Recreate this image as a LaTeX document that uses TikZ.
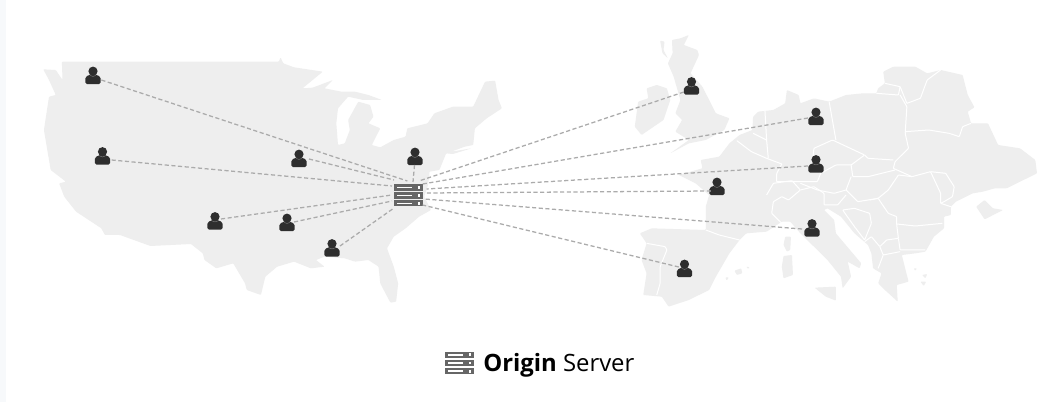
\documentclass[tikz,border=0pt]{standalone}
\usepackage{fontspec}
\setmainfont{Open Sans}
\definecolor{landgray}{HTML}{EEEEEE}
\definecolor{linkgray}{HTML}{ABABAB}
\definecolor{persondark}{HTML}{2E2E2E}
\definecolor{rackgray}{HTML}{666666}
\definecolor{stripblue}{HTML}{F7F9FB}
\tikzset{
  land/.style={fill=landgray,draw=none,rounded corners=0.6pt},
  border/.style={draw=white,line width=0.75pt,line join=round,rounded corners=0.5pt},
  link/.style={draw=linkgray,line width=0.95pt,dash pattern=on 3.1pt off 1.9pt},
  zoomA/.style={shift={(0,40)},x=0.2535pt,y=-0.25pt},
  zoomB/.style={shift={(530,20)},x=0.2535pt,y=-0.25pt},
  usernode/.style={inner sep=0pt,minimum width=12pt,minimum height=14pt,
    path picture={
      \fill[persondark] (0,-4.3) circle[radius=4.6];
      \fill[persondark] (-7.7,7) .. controls (-7.7,8.2) and (-7,8.7) .. (-6,8.7) -- (6,8.7) .. controls (7,8.7) and (7.7,8.2) .. (7.7,7) -- (7.7,3) .. controls (7.7,0.6) and (5,0.2) .. (2.8,-0.8) -- (-2.8,-0.8) .. controls (-5,0.2) and (-7.7,0.6) .. (-7.7,3) -- cycle;
      \draw[gray,line width=0.3pt] (-2.8,0) .. controls (-1.5,1.2) and (1.5,1.2) .. (2.8,0);
    }},
  rackrow/.style={fill=rackgray,draw=none},
  rackmark/.style={fill=white,draw=none},
  servernode/.style={inner sep=0pt,minimum width=21.75pt,minimum height=16.5pt,
    path picture={
      \foreach \yy in {-7.2,0.8,8.8}{
        \fill[rackrow] (-14.5,\yy-3.4) rectangle (14.5,\yy+3.4);
        \fill[rackmark] (-12,\yy-0.7) rectangle (3.5,\yy+0.7);
        \fill[rackmark] (9.6,\yy-1.4) rectangle (11.4,\yy+1.4);
      }
    }},
  legendnode/.style={inner sep=0pt,minimum width=21.75pt,minimum height=17.5pt,
    path picture={
      \foreach \yy in {-8.1,0,8.1}{
        \fill[rackrow] (-14.5,\yy-3.3) rectangle (14.5,\yy+3.3);
        \fill[rackmark] (-12,\yy-0.7) rectangle (3.5,\yy+0.7);
        \fill[rackmark] (9.6,\yy-1.4) rectangle (11.4,\yy+1.4);
      }
    }},
  captionnode/.style={inner sep=0pt,anchor=west,font=\fontsize{17.9pt}{21pt}\selectfont},
}
\begin{document}
\begin{tikzpicture}[x=0.75pt,y=-0.75pt]
\useasboundingbox (0,0) rectangle (1063,402);
\fill[white] (0,0) rectangle (1063,402);
\fill[stripblue] (0,0) rectangle (6,402);

% United States
\begin{scope}[zoomA]
\path[land] (183,65) -- (825,65) -- (830,52) -- (838,70) -- (870,82) -- (955,95) -- (895,145) -- (925,143) -- (985,120) -- (960,145) -- (1010,155) -- (1050,155) -- (1090,165) -- (1130,180) -- (1075,180) -- (1030,170) -- (1000,205) -- (995,250) -- (1000,315) -- (1020,310) -- (1035,270) -- (1030,240) -- (1060,185) -- (1095,195) -- (1105,230) -- (1090,250) -- (1125,265) -- (1100,315) -- (1125,322) -- (1165,300) -- (1200,290) -- (1205,265) -- (1265,250) -- (1285,220) -- (1340,200) -- (1400,200) -- (1435,125) -- (1465,122) -- (1475,180) -- (1485,205) -- (1440,235) -- (1405,265) -- (1400,315) -- (1375,320) -- (1335,335) -- (1395,325) -- (1340,342) -- (1320,340) -- (1300,390) -- (1270,395) -- (1270,410) -- (1265,440) -- (1255,470) -- (1275,510) -- (1240,530) -- (1200,565) -- (1165,590) -- (1145,625) -- (1165,680) -- (1178,730) -- (1172,785) -- (1155,788) -- (1125,730) -- (1120,680) -- (1090,660) -- (1050,665) -- (1020,655) -- (960,650) -- (935,660) -- (960,680) -- (920,685) -- (870,665) -- (820,680) -- (785,710) -- (772,765) -- (730,750) -- (725,730) -- (690,670) -- (640,685) -- (605,660) -- (600,640) -- (565,612) -- (445,618) -- (355,585) -- (310,585) -- (300,565) -- (225,515) -- (190,470) -- (175,430) -- (195,425) -- (150,390) -- (130,270) -- (145,170) -- (165,165) -- (145,120) -- (128,88) -- (165,90) -- (185,120) -- cycle;
\end{scope}

% Europe
\begin{scope}[zoomB]
% Great Britain, Ireland, Hebrides
\path[land] (470,45) -- (455,75) -- (495,90) -- (500,105) -- (475,160) -- (510,200) -- (550,280) -- (590,295) -- (575,330) -- (520,360) -- (470,370) -- (415,400) -- (470,360) -- (430,335) -- (450,300) -- (430,280) -- (445,240) -- (425,170) -- (408,130) -- (422,100) -- (420,60) -- (445,55) -- cycle;
\path[land] (345,205) -- (375,195) -- (405,205) -- (415,240) -- (395,300) -- (330,345) -- (310,320) -- (320,245) -- (350,235) -- cycle;
\path[land] (385,62) -- (398,65) -- (395,90) -- (408,115) -- (392,100) -- cycle;
% Continent
\path[land] (505,420) -- (560,410) -- (590,370) -- (620,345) -- (658,330) -- (660,290) -- (675,275) -- (720,270) -- (755,250) -- (760,210) -- (795,225) -- (800,250) -- (840,235) -- (885,245) -- (935,225) -- (985,220) -- (1025,220) -- (1030,205) -- (1050,190) -- (1045,155) -- (1075,140) -- (1140,140) -- (1175,160) -- (1215,150) -- (1280,165) -- (1295,225) -- (1315,262) -- (1295,275) -- (1305,310) -- (1355,310) -- (1385,375) -- (1450,385) -- (1495,420) -- (1500,460) -- (1410,505) -- (1375,505) -- (1340,515) -- (1310,520) -- (1260,545) -- (1245,560) -- (1245,585) -- (1225,590) -- (1225,625) -- (1195,650) -- (1170,695) -- (1140,700) -- (1100,705) -- (1120,785) -- (1085,795) -- (1088,845) -- (1050,810) -- (1030,790) -- (1040,760) -- (1015,745) -- (1010,700) -- (1000,675) -- (960,640) -- (920,590) -- (880,565) -- (870,570) -- (900,600) -- (905,640) -- (980,730) -- (975,745) -- (940,725) -- (950,770) -- (925,805) -- (920,770) -- (880,720) -- (830,670) -- (800,640) -- (770,605) -- (745,605) -- (700,635) -- (640,640) -- (620,660) -- (590,700) -- (550,770) -- (530,810) -- (470,840) -- (410,860) -- (390,830) -- (335,825) -- (345,760) -- (330,720) -- (345,670) -- (325,640) -- (360,625) -- (520,630) -- (520,560) -- (530,525) -- (490,490) -- (440,465) -- (510,445) -- cycle;
% Islands
\path[land] (755,650) -- (772,650) -- (770,690) -- (760,695) -- (750,675) -- cycle;
\path[land] (750,708) -- (775,705) -- (778,765) -- (750,775) -- (745,740) -- cycle;
\path[land] (842,803) -- (905,800) -- (905,842) -- (875,830) -- cycle;
\path[land] (605,752) -- (625,745) -- (628,760) -- (612,765) -- cycle;
\path[land] (578,772) -- (588,772) -- (582,782) -- cycle;
\path[land] (640,740) -- (650,742) -- (645,747) -- cycle;
\path[land] (1320,560) -- (1345,540) -- (1370,565) -- (1400,570) -- (1345,598) -- cycle;
\path[land] (1160,765) -- (1175,762) -- (1170,775) -- cycle;
\path[land] (1155,785) -- (1172,785) -- (1165,798) -- cycle;
\path[land] (1135,745) -- (1145,745) -- (1140,752) -- cycle;
% Country borders
\path[border] (520,630) -- (560,645) -- (620,660);
\path[border] (345,670) -- (400,680) -- (405,690) -- (385,740) -- (385,790) -- (375,825);
\path[border] (612,362) -- (655,395) -- (700,415) -- (745,432);
\path[border] (695,270) -- (700,360) -- (705,415);
\path[border] (660,340) -- (700,360);
\path[border] (745,432) -- (730,460) -- (730,485);
\path[border] (700,525) -- (720,490) -- (775,482) -- (800,510) -- (765,540) -- (745,530) -- (720,545) -- (715,580) -- (745,610);
\path[border] (730,485) -- (850,485) -- (860,460) -- (835,430) -- (840,385) -- (895,360) -- (990,405) -- (950,435) -- (905,435) -- (860,460);
\path[border] (885,245) -- (905,360);
\path[border] (1025,220) -- (1090,225) -- (1095,200) -- (1050,190);
\path[border] (1095,225) -- (1115,260) -- (1110,340) -- (1120,385) -- (1080,425) -- (1075,445);
\path[border] (990,405) -- (1000,415) -- (1075,420);
\path[border] (950,435) -- (955,470) -- (1000,470) -- (1080,450);
\path[border] (950,470) -- (935,510) -- (970,545) -- (1030,535) -- (1060,510) -- (1090,465);
\path[border] (800,490) -- (850,510) -- (900,520) -- (935,510);
\path[border] (800,510) -- (840,500) -- (870,520) -- (870,555) -- (910,555) -- (935,525);
\path[border] (925,570) -- (960,565) -- (1005,580) -- (1010,610) -- (990,660) -- (960,620) -- cycle;
\path[border] (1005,540) -- (1030,535) -- (1060,580) -- (1085,590) -- (1085,615) -- (1090,655) -- (1055,660) -- (1035,680) -- (1010,650) -- (990,665);
\path[border] (1090,465) -- (1130,470) -- (1185,455) -- (1215,520) -- (1215,550) -- (1245,560);
\path[border] (1085,612) -- (1140,618) -- (1220,610);
\path[border] (1090,655) -- (1095,690) -- (1120,690) -- (1170,690);
\path[border] (1035,680) -- (1045,705) -- (1095,695);
\path[border] (1045,705) -- (1030,745);
\path[border] (1185,455) -- (1230,460) -- (1255,500) -- (1250,530) -- (1225,545) -- (1215,550);
\path[border] (1110,335) -- (1180,330) -- (1240,340) -- (1270,350) -- (1280,320) -- (1305,310);
\path[border] (1115,250) -- (1155,235) -- (1175,180) -- (1215,150);
\path[border] (1095,200) -- (1115,250);
\path[border] (1075,445) -- (1130,470);
\end{scope}

% Users and server
\node[servernode] (srv) at (408.5,194.5) {};
\node[usernode] (u1) at (93,75.5) {};
\node[usernode] (u2) at (102.5,156) {};
\node[usernode] (u3) at (299,158.5) {};
\node[usernode] (u4) at (415,156.5) {};
\node[usernode] (u5) at (215,221) {};
\node[usernode] (u6) at (287,222.5) {};
\node[usernode] (u7) at (332,248) {};
\node[usernode] (e1) at (691.5,86) {};
\node[usernode] (e2) at (816,116.5) {};
\node[usernode] (e3) at (816,164) {};
\node[usernode] (e4) at (717,186.5) {};
\node[usernode] (e5) at (812,228) {};
\node[usernode] (e6) at (684.5,268.5) {};

% Connector ends around the server
\coordinate (a1) at (407.4,181);
\coordinate (a2) at (392,186);
\coordinate (a3) at (394,180);
\coordinate (a4) at (413,182);
\coordinate (a5) at (392,195);
\coordinate (a6) at (392,201);
\coordinate (a7) at (394,208);
\coordinate (b1) at (419,181);
\coordinate (b2) at (422.6,184);
\coordinate (b3) at (426.6,189);
\coordinate (b4) at (426.6,193);
\coordinate (b5) at (424.3,199);
\coordinate (b6) at (422.6,205);
% Connector ends beside the users
\coordinate (c1) at (101.4,80);
\coordinate (c2) at (111.6,160);
\coordinate (c3) at (309,159);
\coordinate (c4) at (414.5,165);
\coordinate (c5) at (221,219);
\coordinate (c6) at (294,222);
\coordinate (c7) at (340,246);
\coordinate (d1) at (683.8,92);
\coordinate (d2) at (807.9,118);
\coordinate (d3) at (807.9,166);
\coordinate (d4) at (710.9,191);
\coordinate (d5) at (802,229);
\coordinate (d6) at (678.8,267);

\draw[link] (c1) -- (a1);
\draw[link] (c2) -- (a2);
\draw[link] (c3) -- (a3);
\draw[link] (c4) -- (a4);
\draw[link] (c5) -- (a5);
\draw[link] (c6) -- (a6);
\draw[link] (c7) -- (a7);
\draw[link] (d1) -- (b1);
\draw[link] (d2) -- (b2);
\draw[link] (d3) -- (b3);
\draw[link] (d4) -- (b4);
\draw[link] (d5) -- (b5);
\draw[link] (d6) -- (b6);

% Legend
\node[legendnode] (legicon) at (459.5,363) {};
\node[captionnode] (legtext) at (483,365) {\textbf{Origin} Server};
\end{tikzpicture}
\end{document}
